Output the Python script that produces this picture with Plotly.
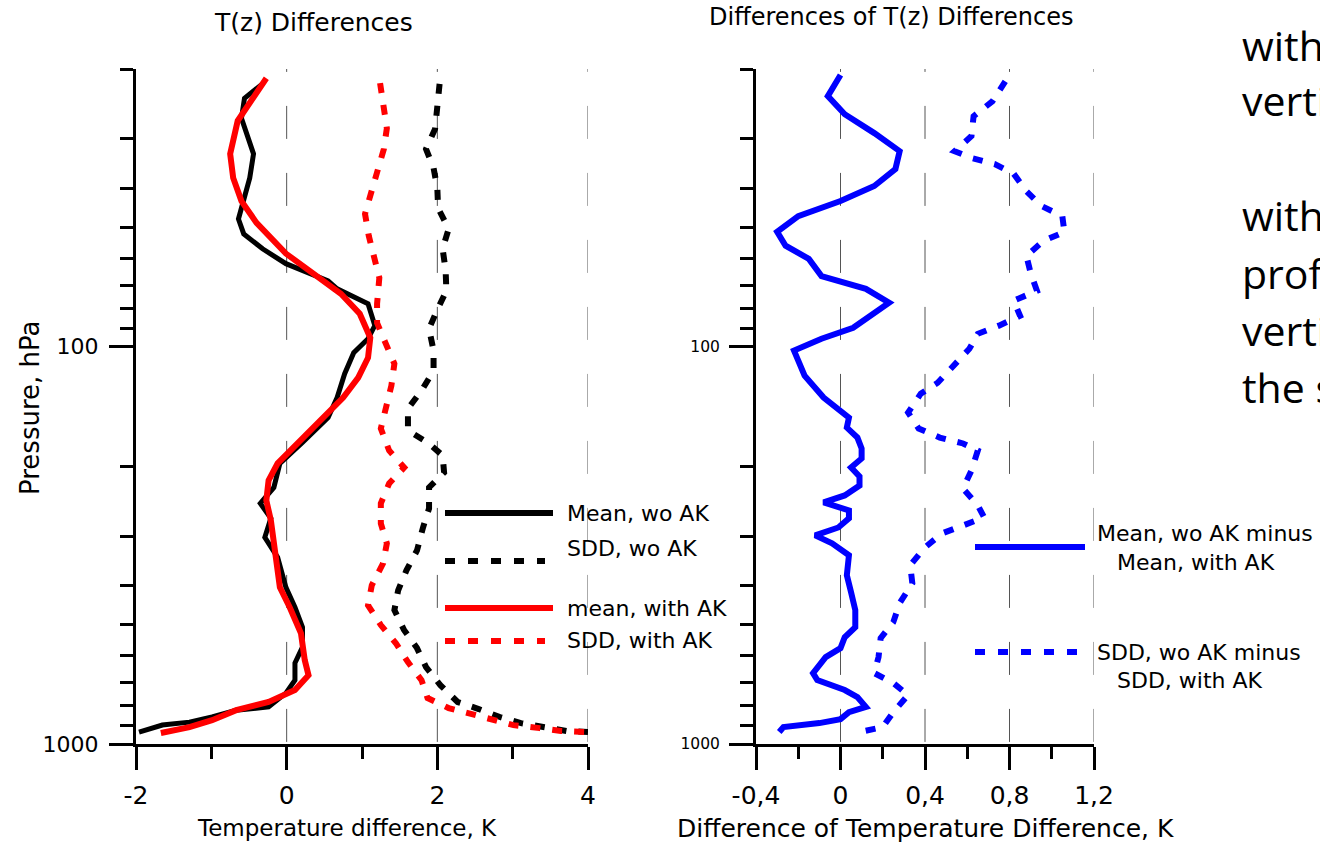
import math
import plotly.graph_objects as go

# ---------------- data ----------------
# Left panel: T(z) differences, K  vs pressure, hPa
P_MEAN_WO = [21.7, 23.7, 26.6, 32.7, 37.6, 47.7, 52.0, 56.7, 61.8, 68.3, 71.5, 78.0, 88.5, 95.5,
             103.5, 116.9, 134.3, 150.8, 174.2, 196.6, 226.1, 247.9, 270.4, 301.9, 339.1, 403.3,
             452.6, 508, 570.5, 625.4, 690.5, 744.7, 806.6, 822, 855, 881, 896, 933]
MEAN_WO = [-0.31, -0.56, -0.60, -0.44, -0.49, -0.64, -0.57, -0.32, -0.01, 0.55, 0.67, 1.08, 1.17, 1.08,
           0.89, 0.77, 0.67, 0.55, 0.21, -0.09, -0.17, -0.35, -0.21, -0.29, -0.12, -0.01,
           0.11, 0.21, 0.21, 0.11, 0.11, -0.01, -0.24, -0.67, -0.99, -1.29, -1.65, -1.96]

P_SDD_WO = [21.8, 25.0, 28.3, 31.8, 35.5, 39.9, 44.8, 50.5, 56.7, 64.1, 72.3, 80.7, 90.1, 102.3,
            114.9, 129, 143.2, 162.5, 174.2, 187.8, 207.3, 226.1, 255.3, 285.1, 325.8, 365.5,
            410.3, 460.2, 517.3, 573.6, 640.6, 711, 784, 816.6, 855.2, 885.9, 906.6, 927.5, 933]
SDD_WO = [2.03, 1.99, 1.97, 1.85, 1.95, 2.00, 2.01, 2.15, 2.07, 2.11, 2.12, 2.00, 1.89, 1.95,
          1.95, 1.79, 1.61, 1.61, 1.87, 2.07, 2.09, 1.89, 1.89, 1.81, 1.73, 1.59,
          1.48, 1.43, 1.56, 1.73, 1.85, 2.04, 2.27, 2.55, 2.83, 3.11, 3.41, 3.72, 4.0]

P_MEAN_AK = [21.1, 23.7, 27.0, 32.7, 37.6, 43.0, 48.8, 58.3, 67.1, 73.6, 82.6, 94.9, 106.6, 119.6,
             134.3, 150.8, 169.3, 196.6, 217.1, 243.7, 273.6, 339.1, 403.3, 452.6, 526.5, 614.8,
             671, 731.4, 784, 822, 871, 907, 938]
MEAN_AK = [-0.27, -0.45, -0.65, -0.75, -0.71, -0.60, -0.40, -0.01, 0.44, 0.72, 0.97, 1.11, 1.08, 0.95,
           0.75, 0.49, 0.21, -0.12, -0.24, -0.27, -0.21, -0.15, -0.09, 0.04, 0.19, 0.24,
           0.29, 0.11, -0.24, -0.67, -0.99, -1.29, -1.67]

P_SDD_AK = [21.7, 24.8, 28.2, 31.8, 36.1, 41.0, 46.3, 52.6, 59.7, 67.1, 78.0, 87.1, 97.7, 110.4,
            125.3, 142.3, 160.7, 182.5, 201.4, 221, 247.9, 278.6, 312.6, 351, 398.5, 447.6,
            502, 557.6, 622.3, 690.5, 766.2, 812, 870.9, 896.3, 912, 927.5, 933]
SDD_AK = [1.24, 1.28, 1.33, 1.29, 1.20, 1.11, 1.04, 1.09, 1.17, 1.23, 1.20, 1.20, 1.31, 1.43,
          1.39, 1.31, 1.25, 1.36, 1.56, 1.36, 1.25, 1.25, 1.33, 1.28, 1.13, 1.08,
          1.25, 1.45, 1.61, 1.79, 1.87, 2.15, 2.71, 3.01, 3.36, 3.64, 3.97]

# Right panel: differences of the differences, K
P_DMEAN = [20.7, 23.4, 26.0, 29.0, 32.2, 35.7, 39.4, 43.0, 46.9, 51.4, 55.7, 60.1, 66.4, 71.5, 77.5,
           89.6, 95.5, 102.3, 108.4, 118.3, 134.3, 150.8, 159.8, 169.3, 180.4, 191.1, 201.4, 212.1,
           223.6, 236.8, 246.6, 258.2, 270.4, 285.1, 298.4, 312.6, 335.0, 376.1, 415, 460.2, 508,
           538.6, 573.6, 604.5, 663.1, 690.5, 731.4, 761.6, 806.6, 831.2, 865.5, 885.9, 906.6, 933]
DMEAN = [0.00, -0.06, 0.02, 0.16, 0.28, 0.26, 0.16, 0.00, -0.20, -0.30, -0.26, -0.15, -0.09, 0.12, 0.23,
         0.06, -0.09, -0.22, -0.20, -0.17, -0.08, 0.04, 0.03, 0.08, 0.10, 0.10, 0.05, 0.09,
         0.09, 0.02, -0.08, 0.04, 0.04, -0.01, -0.12, -0.04, 0.04, 0.03, 0.05, 0.07, 0.07,
         0.02, 0.00, -0.07, -0.13, -0.11, 0.02, 0.08, 0.12, 0.04, 0.00, -0.10, -0.27, -0.29]

P_DSDD = [21.5, 24.1, 26.3, 29.5, 32.2, 33.5, 34.7, 36.7, 40.6, 44.2, 46.9, 51.4, 54.2, 59.1, 65.2,
          72.3, 76.6, 83.6, 88.5, 92.8, 101.2, 111.6, 123.2, 131.3, 146.5, 160.7, 169.3, 175.2,
          182.5, 204.9, 227.4, 250.8, 269.0, 281.8, 295.1, 319.9, 354.8, 393.9, 442.2, 493.5,
          541.7, 604.5, 663.1, 702.6, 753.2, 831.2, 906.6, 933]
DSDD = [0.78, 0.72, 0.63, 0.62, 0.54, 0.62, 0.73, 0.82, 0.88, 0.95, 1.05, 1.06, 0.96, 0.88, 0.90,
        0.93, 0.82, 0.85, 0.75, 0.65, 0.61, 0.54, 0.46, 0.38, 0.32, 0.37, 0.47, 0.58,
        0.65, 0.62, 0.58, 0.65, 0.68, 0.58, 0.48, 0.40, 0.33, 0.34, 0.28, 0.25,
        0.19, 0.18, 0.16, 0.25, 0.32, 0.25, 0.20, 0.09]

# Tick definitions
X1_TICKS = [-2, 0, 2, 4]
X1_LABELS = ["-2", "0", "2", "4"]
X1_MINOR = [-1, 1, 3]
X2_TICKS = [-0.4, 0, 0.4, 0.8, 1.2]
X2_LABELS = ["-0,4", "0", "0,4", "0,8", "1,2"]
X2_MINOR = [-0.2, 0.2, 0.6, 1.0]
Y_TICKS = [100, 1000]
Y_LABELS = ["100", "1000"]
Y_MINOR = [20, 30, 40, 50, 60, 70, 80, 90, 200, 300, 400, 500, 600, 700, 800, 900]
P_TOP, P_BOTTOM = 20, 1000
GRID1 = [0, 2, 4]
GRID2 = [0, 0.4, 0.8, 1.2]

# Slide text fragments on the right edge (cut by the page edge, as in the original)
SLIDE_TEXT = ["with", "verti", "with", "prof", "verti", "the s"]
SLIDE_Y = [45, 100, 215, 273, 330, 387]

# ---------------- layout helpers ----------------
W, H = 1320, 843
FONT = "DejaVu Sans"


def fx(px):
    return px / W


def fy(py):
    return 1 - py / H


fig = go.Figure()

GRID_START_P = 16.8  # starts the dash pattern just above the plot top
grid_style = dict(color="#555555", width=1, dash="33px,34px")
for g in GRID1:
    fig.add_trace(go.Scatter(x=[g, g], y=[GRID_START_P, P_BOTTOM], mode="lines", line=grid_style,
                             hoverinfo="skip", showlegend=False, xaxis="x", yaxis="y"))
for g in GRID2:
    fig.add_trace(go.Scatter(x=[g, g], y=[GRID_START_P, P_BOTTOM], mode="lines", line=grid_style,
                             hoverinfo="skip", showlegend=False, xaxis="x2", yaxis="y2"))

DOT = "10px,12px"
fig.add_trace(go.Scatter(x=MEAN_WO, y=P_MEAN_WO, mode="lines", name="Mean, wo AK",
                         line=dict(color="black", width=5), xaxis="x", yaxis="y"))
fig.add_trace(go.Scatter(x=SDD_WO, y=P_SDD_WO, mode="lines", name="SDD, wo AK",
                         line=dict(color="black", width=6, dash=DOT), xaxis="x", yaxis="y"))
fig.add_trace(go.Scatter(x=MEAN_AK, y=P_MEAN_AK, mode="lines", name="mean, with AK",
                         line=dict(color="#ff0000", width=6), xaxis="x", yaxis="y"))
fig.add_trace(go.Scatter(x=SDD_AK, y=P_SDD_AK, mode="lines", name="SDD, with AK",
                         line=dict(color="#ff0000", width=6, dash=DOT), xaxis="x", yaxis="y"))
fig.add_trace(go.Scatter(x=DMEAN, y=P_DMEAN, mode="lines", name="Mean difference",
                         line=dict(color="#0000ff", width=6), xaxis="x2", yaxis="y2"))
fig.add_trace(go.Scatter(x=DSDD, y=P_DSDD, mode="lines", name="SDD difference",
                         line=dict(color="#0000ff", width=6, dash=DOT), xaxis="x2", yaxis="y2"))

axis_common = dict(showline=True, linewidth=3, linecolor="black", ticks="outside",
                   tickwidth=3, tickcolor="black", showgrid=False, zeroline=False,
                   automargin=False, tickmode="array")
y_range = [math.log10(P_BOTTOM), math.log10(P_TOP)]
ydom = [fy(744), fy(69)]

fig.update_layout(
    width=W, height=H, autosize=False, template="none",
    margin=dict(l=0, r=0, t=0, b=0),
    paper_bgcolor="white", plot_bgcolor="white", showlegend=False,
    font=dict(family=FONT, color="black"),
    xaxis=dict(domain=[fx(136), fx(588)], range=[-2, 4], anchor="y",
               tickvals=X1_TICKS, ticktext=X1_LABELS, ticklen=23, ticklabelstandoff=4,
               tickfont=dict(size=25, family=FONT, color="black"),
               minor=dict(tickmode="array", tickvals=X1_MINOR, ticks="outside", ticklen=12,
                          tickwidth=3, tickcolor="black", showgrid=False),
               **axis_common),
    yaxis=dict(domain=ydom, type="log", range=y_range, anchor="x",
               tickvals=Y_TICKS, ticktext=Y_LABELS, ticklen=24, ticklabelstandoff=6,
               tickfont=dict(size=22, family=FONT, color="black"),
               minor=dict(tickmode="array", tickvals=Y_MINOR, ticks="outside", ticklen=13,
                          tickwidth=3, tickcolor="black", showgrid=False),
               **axis_common),
    xaxis2=dict(domain=[fx(756), fx(1094)], range=[-0.4, 1.2], anchor="y2",
                tickvals=X2_TICKS, ticktext=X2_LABELS, ticklen=23, ticklabelstandoff=4,
                tickfont=dict(size=25, family=FONT, color="black"),
                minor=dict(tickmode="array", tickvals=X2_MINOR, ticks="outside", ticklen=12,
                           tickwidth=3, tickcolor="black", showgrid=False),
                **axis_common),
    yaxis2=dict(domain=ydom, type="log", range=y_range, anchor="x2",
                tickvals=Y_TICKS, ticktext=Y_LABELS, ticklen=24, ticklabelstandoff=6,
                tickfont=dict(size=15.5, family=FONT, color="black"),
                minor=dict(tickmode="array", tickvals=Y_MINOR, ticks="outside", ticklen=13,
                           tickwidth=3, tickcolor="black", showgrid=False),
                **axis_common),
)

# ---------------- legends (drawn like the original, inside the panels) ----------------
legend_lines = [
    (445, 553, 513, "black", None),
    (445, 545, 561, "black", "10px,13px"),
    (445, 553, 608, "#ff0000", None),
    (445, 545, 641, "#ff0000", "10px,13px"),
    (975, 1085, 547, "#0000ff", None),
    (975, 1085, 652, "#0000ff", "10px,13px"),
]
for x0, x1, yy, col, dash in legend_lines:
    ln = dict(color=col, width=6)
    if dash:
        ln["dash"] = dash
    fig.add_shape(type="line", xref="paper", yref="paper", x0=fx(x0), x1=fx(x1),
                  y0=fy(yy), y1=fy(yy), line=ln)

legend_texts = [
    ("Mean, wo AK", 565, 513), ("SDD, wo AK", 565, 548),
    ("mean, with AK", 565, 608), ("SDD, with AK", 565, 640),
    ("Mean, wo AK minus", 1095, 533), ("Mean, with AK", 1115, 562),
    ("SDD, wo AK minus", 1095, 652), ("SDD, with AK", 1115, 680),
]
for txt, x, yy in legend_texts:
    fig.add_annotation(text=txt, xref="paper", yref="paper", x=fx(x), y=fy(yy),
                       xanchor="left", yanchor="middle", showarrow=False,
                       font=dict(size=22, family=FONT, color="black"))

# ---------------- titles ----------------
titles = [
    ("T(z) Differences", 313, 22, 25, 0),
    ("Differences of T(z) Differences", 891, 17, 24, 0),
    ("Temperature difference, K", 347, 828, 23, 0),
    ("Difference of Temperature Difference, K", 925, 828, 25, 0),
    ("Pressure, hPa", 30, 408, 26, -90),
]
for txt, x, yy, size, ang in titles:
    fig.add_annotation(text=txt, xref="paper", yref="paper", x=fx(x), y=fy(yy),
                       xanchor="center", yanchor="middle", showarrow=False, textangle=ang,
                       font=dict(size=size, family=FONT, color="black"))

for txt, yy in zip(SLIDE_TEXT, SLIDE_Y):
    fig.add_annotation(text=txt, xref="paper", yref="paper", x=fx(1240), y=fy(yy),
                       xanchor="left", yanchor="middle", showarrow=False,
                       font=dict(size=41, family="Open Sans", color="black"))

fig.write_html("out.html", config={"displayModeBar": False})
